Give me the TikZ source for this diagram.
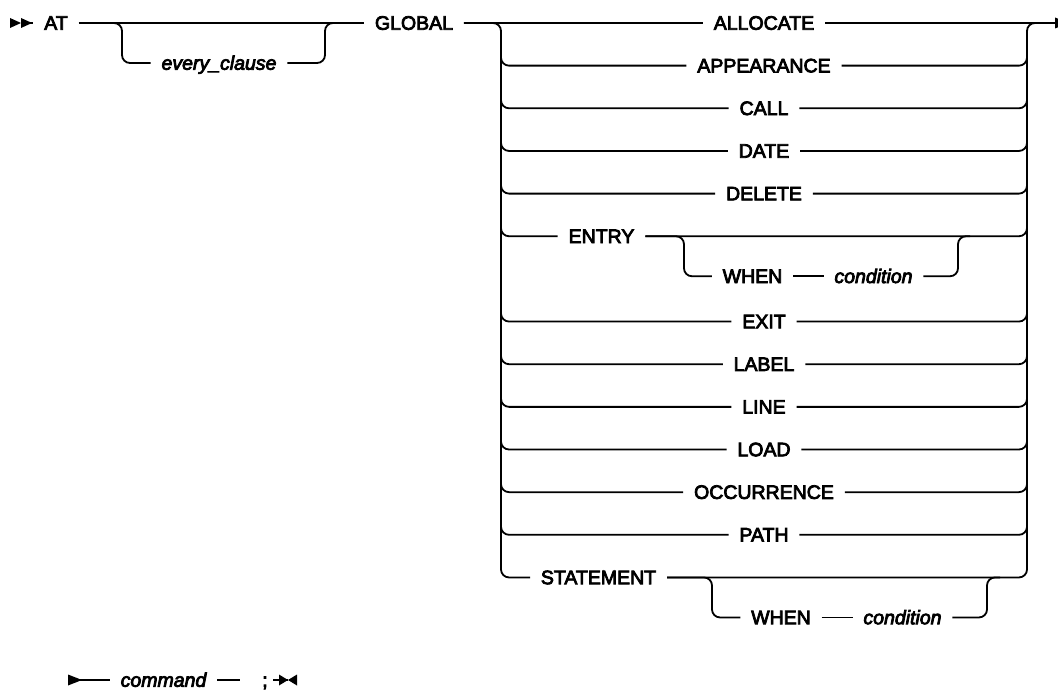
\documentclass[tikz,border=0pt]{standalone}
\usepackage{fontspec}
\setmainfont{Liberation Sans}[UprightFeatures={FakeBold=4},ItalicFeatures={FakeBold=4}]
\begin{document}
\begin{tikzpicture}[x=1pt,y=-1pt,line width=1.8pt,
  kw/.style={inner xsep=10pt,inner ysep=0pt,text height=13.5pt,text depth=0pt,font=\fontsize{19.5}{22}\selectfont},
  var/.style={kw,font=\fontsize{19.5}{22}\selectfont\itshape},
  rail/.style={rounded corners=8pt}]
\useasboundingbox (0,0) rectangle (1058,690);
\clip (0,0) rectangle (1058,690);
% start marks
\fill (10,18) -- (21,23) -- (10,28) -- cycle;
\fill (21,18) -- (32,23) -- (21,28) -- cycle;
\coordinate (s0) at (30,23);
\node[kw] (at) at (56,23) {AT};
\node[var] (ec) at (219,63) {every\_clause};
\node[kw] (global) at (414,23) {GLOBAL};
\draw (s0) -- (at) -- (global);
\coordinate (ecA) at (113,23);
\coordinate (ecB) at (336,23);
\draw[rail] (ecA) -| (122,63) -- (ec);
\draw[rail] (ec) -| (325,23) -- (ecB);
% choice block
\node[kw] (r0) at (764,23) {ALLOCATE};
\coordinate (endtip) at (1055,23);
\draw (global) -- (r0) -- (endtip);
\fill (1055,17.5) -- (1069,23) -- (1055,28.5) -- cycle;
\foreach \nm/\t/\y in {r1/APPEARANCE/65.65, r2/CALL/108.3, r3/DATE/150.95, r4/DELETE/193.6,
  r7/EXIT/321.55, r8/LABEL/364.2, r9/LINE/406.85, r10/LOAD/449.5, r11/OCCURRENCE/492.15, r12/PATH/534.8}{
  \node[kw] (\nm) at (764,\y) {\t};
  \draw[rail] (501,\y-14) |- (\nm);
  \draw[rail] (\nm) -| (1027,\y-14);
}
% ENTRY
\node[kw] (entry) at (601.5,236.25) {ENTRY};
\draw[rail] (501,222) |- (entry);
\draw[rail] (entry) -| (1027,222);
\node[kw] (w1) at (752.5,276.25) {WHEN};
\node[var] (c1) at (873.5,276.25) {condition};
\coordinate (e1) at (970,236.25);
\draw[rail] (entry) -| (684,276.25) -- (w1);
\draw (w1) -- (c1);
\draw[rail] (c1) -| (958,236.25) -- (e1);
% STATEMENT
\node[kw] (st) at (598.5,577.45) {STATEMENT};
\node[kw] (w2) at (781,617.45) {WHEN};
\node[var] (c2) at (902.5,617.45) {condition};
\coordinate (e2) at (1000,577.45);
\draw[rail] (st) -| (712,617.45) -- (w2);
\draw (w2) -- (c2);
\draw[rail] (c2) -| (987,577.45) -- (e2);
% rails
\draw[rail] (global) -| (501,300) |- (st);
\draw[rail] (st) -| (1027,300) |- (endtip);
% second line
\fill (68,674.5) -- (82,680) -- (68,685.5) -- cycle;
\coordinate (b0) at (80,680);
\node[var] (cmd) at (163.5,680) {command};
\coordinate (b1) at (240,680);
\node[kw,inner xsep=0pt] (semi) at (265,680) {;};
\coordinate (b2) at (273,680);
\coordinate (b3) at (288,680);
\draw (b0) -- (cmd) -- (b1);
\draw (b2) -- (b3);
\fill (279,674.5) -- (288,680) -- (279,685.5) -- cycle;
\fill (297,674.5) -- (288,680) -- (297,685.5) -- cycle;
\end{tikzpicture}
\end{document}
